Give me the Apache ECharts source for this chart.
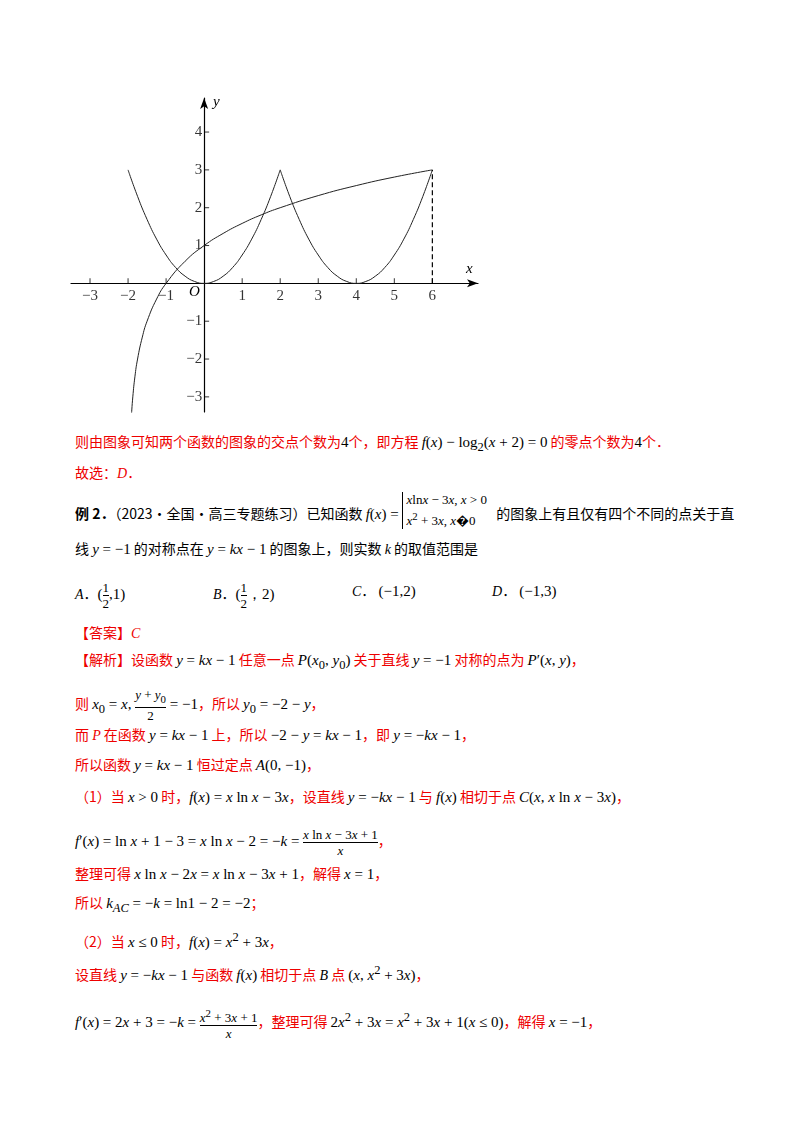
<!DOCTYPE html>
<html><head><meta charset="utf-8">
<script src="https://cdn.jsdelivr.net/npm/echarts@6/dist/echarts.min.js"></script>
<style>
body{margin:0;background:#fff;width:800px;height:1132px;position:relative;overflow:hidden;font-family:"Noto Sans CJK SC","Liberation Serif",serif;font-size:14px;color:#000}
#chartmain{position:absolute;left:0;top:0;width:800px;height:420px}
.ln{position:absolute;left:75px;white-space:nowrap;line-height:20px}
.r{color:#e00}
.m{font-family:"Liberation Serif",serif;font-size:15px;color:#000}
i{font-family:"Liberation Serif",serif}
.fr{display:inline-block;vertical-align:middle;text-align:center;font-family:"Liberation Serif",serif;font-size:13px;line-height:15px;color:#000}
.fr span{display:block}
.fr span:first-child{border-bottom:1px solid #000}
</style></head>
<body>
<div id="chartmain"></div>

<div class="ln r" style="top:431px">则由图象可知两个函数的图象的交点个数为<span class="m">4</span>个，即方程 <span class="m"><i>f</i>(<i>x</i>) − log<sub>2</sub>(<i>x</i> + 2) = 0</span> 的零点个数为<span class="m">4</span>个．</div>
<div class="ln r" style="top:462px">故选：<i>D</i>．</div>
<div class="ln" style="top:502px"><b>例 2．</b>（2023·全国·高三专题练习）已知函数 <span class="m"><i>f</i>(<i>x</i>) = </span><span style="display:inline-block;vertical-align:middle;font-family:'Liberation Serif';font-size:13px;line-height:16px;border-left:1px solid #000;padding-left:3px;margin-top:-10px"><i>x</i>ln<i>x</i> − 3<i>x</i>, <i>x</i> &gt; 0<br><i>x</i><sup>2</sup> + 3<i>x</i>, <i>x</i>�0</span> &nbsp; 的图象上有且仅有四个不同的点关于直</div>
<div class="ln" style="top:538px">线 <span class="m"><i>y</i> = −1</span> 的对称点在 <span class="m"><i>y</i> = <i>kx</i> − 1</span> 的图象上，则实数 <i>k</i> 的取值范围是</div>
<div class="ln" style="top:580px"><i>A</i>．<span class="m">(</span><span class="fr"><span>1</span><span>2</span></span><span class="m">,1)</span></div>
<div class="ln" style="top:580px;left:213px"><i>B</i>．<span class="m">(</span><span class="fr"><span>1</span><span>2</span></span><span class="m">，2)</span></div>
<div class="ln" style="top:580px;left:352px"><i>C</i>． <span class="m">(−1,2)</span></div>
<div class="ln" style="top:580px;left:492px"><i>D</i>． <span class="m">(−1,3)</span></div>
<div class="ln r" style="top:622px">【答案】<i>C</i></div>
<div class="ln r" style="top:649px">【解析】设函数 <span class="m"><i>y</i> = <i>kx</i> − 1</span> 任意一点 <span class="m"><i>P</i>(<i>x</i><sub>0</sub>, <i>y</i><sub>0</sub>)</span> 关于直线 <span class="m"><i>y</i> = −1</span> 对称的点为 <span class="m"><i>P</i>′(<i>x</i>, <i>y</i>)</span>，</div>
<div class="ln r" style="top:687px">则 <span class="m"><i>x</i><sub>0</sub> = <i>x</i>, </span><span class="fr"><span><i>y</i> + <i>y</i><sub>0</sub></span><span>2</span></span><span class="m"> = −1</span>，所以 <span class="m"><i>y</i><sub>0</sub> = −2 − <i>y</i></span>，</div>
<div class="ln r" style="top:724px">而 <i>P</i> 在函数 <span class="m"><i>y</i> = <i>kx</i> − 1</span> 上，所以 <span class="m">−2 − <i>y</i> = <i>kx</i> − 1</span>，即 <span class="m"><i>y</i> = −<i>kx</i> − 1</span>，</div>
<div class="ln r" style="top:754px">所以函数 <span class="m"><i>y</i> = <i>kx</i> − 1</span> 恒过定点 <span class="m"><i>A</i>(0, −1)</span>，</div>
<div class="ln r" style="top:786px">（1）当 <span class="m"><i>x</i> &gt; 0</span> 时，<span class="m"><i>f</i>(<i>x</i>) = <i>x</i> ln <i>x</i> − 3<i>x</i></span>，设直线 <span class="m"><i>y</i> = −<i>kx</i> − 1</span> 与 <span class="m"><i>f</i>(<i>x</i>)</span> 相切于点 <span class="m"><i>C</i>(<i>x</i>, <i>x</i> ln <i>x</i> − 3<i>x</i>)</span>，</div>
<div class="ln r" style="top:827px"><span class="m"><i>f</i>′(<i>x</i>) = ln <i>x</i> + 1 − 3 = <i>x</i> ln <i>x</i> − 2 = −<i>k</i> = </span><span class="fr"><span><i>x</i> ln <i>x</i> − 3<i>x</i> + 1</span><span><i>x</i></span></span>，</div>
<div class="ln r" style="top:863px">整理可得 <span class="m"><i>x</i> ln <i>x</i> − 2<i>x</i> = <i>x</i> ln <i>x</i> − 3<i>x</i> + 1</span>，解得 <span class="m"><i>x</i> = 1</span>，</div>
<div class="ln r" style="top:892px">所以 <span class="m"><i>k</i><sub><i>AC</i></sub> = −<i>k</i> = ln1 − 2 = −2</span>；</div>
<div class="ln r" style="top:927px">（2）当 <span class="m"><i>x</i> ≤ 0</span> 时，<span class="m"><i>f</i>(<i>x</i>) = <i>x</i><sup>2</sup> + 3<i>x</i></span>，</div>
<div class="ln r" style="top:960px">设直线 <span class="m"><i>y</i> = −<i>kx</i> − 1</span> 与函数 <span class="m"><i>f</i>(<i>x</i>)</span> 相切于点 <i style="color:#000">B</i> 点 <span class="m">(<i>x</i>, <i>x</i><sup>2</sup> + 3<i>x</i>)</span>，</div>
<div class="ln r" style="top:1006px"><span class="m"><i>f</i>′(<i>x</i>) = 2<i>x</i> + 3 = −<i>k</i> = </span><span class="fr"><span><i>x</i><sup>2</sup> + 3<i>x</i> + 1</span><span><i>x</i></span></span>，整理可得 <span class="m">2<i>x</i><sup>2</sup> + 3<i>x</i> = <i>x</i><sup>2</sup> + 3<i>x</i> + 1(<i>x</i> ≤ 0)</span>，解得 <span class="m"><i>x</i> = −1</span>，</div>

<script>
// 函数图象数据
var parabolaLeft = [[-2,3],[-1.75,2.3],[-1.5,1.69],[-1.25,1.17],[-1,0.75],[-0.75,0.42],[-0.5,0.19],[-0.25,0.05],[0,0],
  [0.25,0.05],[0.5,0.19],[0.75,0.42],[1,0.75],[1.25,1.17],[1.5,1.69],[1.75,2.3],[2,3]];
var parabolaRight = [[2,3],[2.25,2.3],[2.5,1.69],[2.75,1.17],[3,0.75],[3.25,0.42],[3.5,0.19],[3.75,0.05],[4,0],
  [4.25,0.05],[4.5,0.19],[4.75,0.42],[5,0.75],[5.25,1.17],[5.5,1.69],[5.75,2.3],[6,3]];
var logCurve = [[-1.91,-3.47],[-1.875,-3],[-1.82,-2.47],[-1.75,-2],[-1.625,-1.42],[-1.5,-1],[-1.25,-0.415],[-1,0],
  [-0.5,0.585],[0,1],[0.5,1.32],[1,1.585],[1.5,1.81],[2,2],[3,2.32],[4,2.585],[5,2.81],[6,3]];
var dashLine = [[6,0],[6,3]];
var xTicks = [-3,-2,-1,1,2,3,4,5,6];
var yTicks = [-3,-2,-1,1,2,3,4];

var font = 'Liberation Serif';
function fmt(p){ return String(p.value[0] || p.value[1]).replace('-','−'); }
var xTickData = xTicks.map(function(v){ return [v, 0]; });
var yTickData = yTicks.map(function(v){ return [0, v]; });
var lbl = {color: '#000', fontFamily: font, fontSize: 15};

var option = {
  animation: false,
  grid: {left: 71, right: 322, top: 98, bottom: 8},
  xAxis: {
    type: 'value', min: -3.5, max: 7.2,
    axisLine: {lineStyle: {color: '#000', width: 1.2}, symbol: ['none','arrow'], symbolSize: [6,11]},
    axisTick: {show: false}, axisLabel: {show: false}, splitLine: {show: false}
  },
  yAxis: {
    type: 'value', min: -3.4, max: 4.9,
    axisLine: {lineStyle: {color: '#000', width: 1.2}, symbol: ['none','arrow'], symbolSize: [6,11]},
    axisTick: {show: false}, axisLabel: {show: false}, splitLine: {show: false}
  },
  series: [
    {type: 'line', data: parabolaLeft, smooth: true, symbol: 'none', lineStyle: {color: '#222', width: 1}},
    {type: 'line', data: parabolaRight, smooth: true, symbol: 'none', lineStyle: {color: '#222', width: 1}},
    {type: 'line', data: logCurve, smooth: true, symbol: 'none', lineStyle: {color: '#222', width: 1}},
    {type: 'line', data: dashLine, symbol: 'none', lineStyle: {color: '#000', width: 1.2, type: [5,3]}},
    // x 轴刻度与标签
    {type: 'scatter', data: xTickData, symbol: 'rect', symbolSize: [1,5], symbolOffset: [0,-2.5],
      itemStyle: {color: '#000'}, silent: true,
      label: Object.assign({show: true, position: 'bottom', distance: 5, formatter: fmt}, lbl)},
    // y 轴刻度与标签
    {type: 'scatter', data: yTickData, symbol: 'rect', symbolSize: [5,1], symbolOffset: [2.5,0],
      itemStyle: {color: '#000'}, silent: true,
      label: Object.assign({show: true, position: 'left', distance: 2, formatter: fmt}, lbl)}
  ],
  graphic: [
    {type: 'text', left: 466, top: 262, style: {text: 'x', font: 'italic 15px Liberation Serif', fill: '#000'}},
    {type: 'text', left: 213, top: 95, style: {text: 'y', font: 'italic 15px Liberation Serif', fill: '#000'}},
    {type: 'text', left: 189, top: 285, style: {text: 'O', font: 'italic 15px Liberation Serif', fill: '#000'}}
  ]
};
var myChart = echarts.init(document.getElementById('chartmain'));
myChart.setOption(option);
</script>
</body></html>
